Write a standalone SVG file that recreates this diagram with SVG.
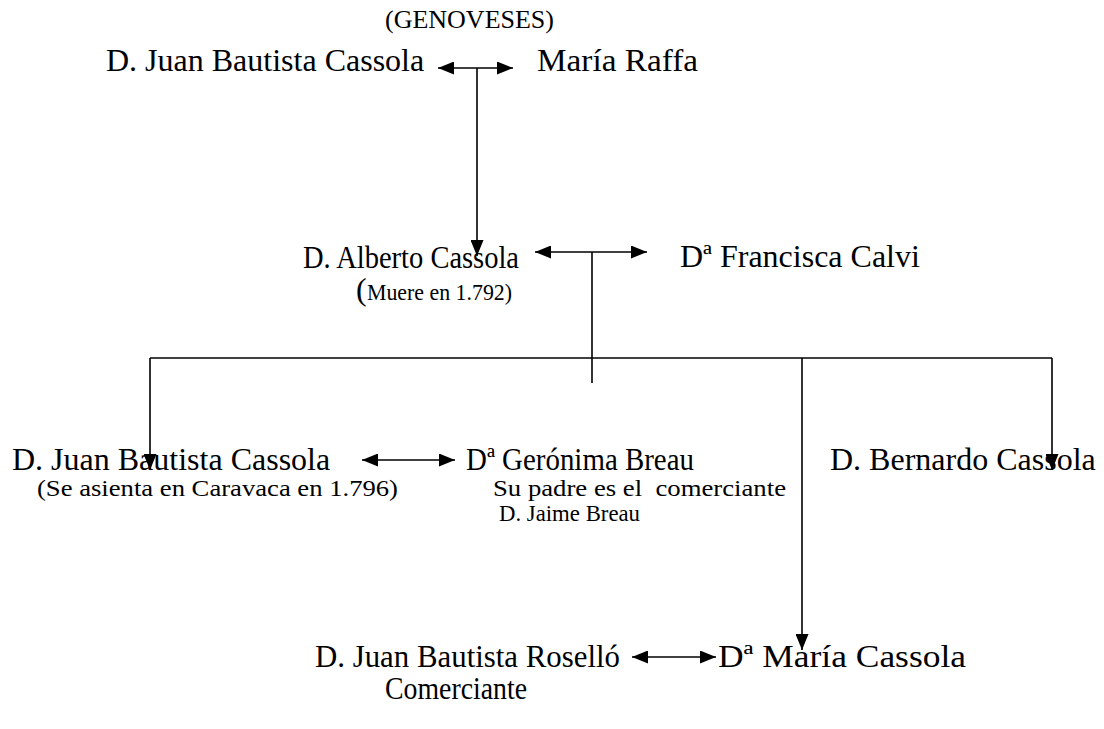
<svg xmlns="http://www.w3.org/2000/svg" width="1104" height="729" viewBox="0 0 1104 729">
<style>
text{font-family:"Liberation Serif","Times New Roman",serif;fill:#000;white-space:pre}
.m{font-size:32px}
.s{font-size:24px}
.c{stroke:#000;stroke-width:1.6;fill:none}
</style>
<defs>
<marker id="ah" viewBox="0 0 16 13" refX="16" refY="6.5" markerWidth="16" markerHeight="13" markerUnits="userSpaceOnUse" orient="auto-start-reverse">
<path d="M0,0 L16,6.5 L0,13 Z" fill="#000"/>
</marker>
</defs>
<rect width="1104" height="729" fill="#fff"/>
<g id="connectors">
<line class="c" x1="438" y1="68" x2="513" y2="68" marker-start="url(#ah)" marker-end="url(#ah)"/>
<line class="c" x1="477" y1="68" x2="477" y2="256" marker-end="url(#ah)"/>
<line class="c" x1="535" y1="252" x2="647" y2="252" marker-start="url(#ah)" marker-end="url(#ah)"/>
<line class="c" x1="592" y1="252" x2="592" y2="383"/>
<line class="c" x1="150" y1="358" x2="1052" y2="358"/>
<line class="c" x1="150" y1="358" x2="150" y2="470" marker-end="url(#ah)"/>
<line class="c" x1="802" y1="358" x2="802" y2="650" marker-end="url(#ah)"/>
<line class="c" x1="1052" y1="358" x2="1052" y2="470" marker-end="url(#ah)"/>
<line class="c" x1="362" y1="460" x2="455" y2="460" marker-start="url(#ah)" marker-end="url(#ah)"/>
<line class="c" x1="632" y1="657" x2="716" y2="657" marker-start="url(#ah)" marker-end="url(#ah)"/>
</g>
<g id="genoveses"><text x="385" y="28" style="font-size:26px">(GENOVESES)</text></g>
<g id="juan1"><text class="m" x="106" y="71">D. Juan Bautista Cassola</text></g>
<g id="maria-raffa"><text class="m" x="537" y="71" textLength="161" lengthAdjust="spacingAndGlyphs">María Raffa</text></g>
<g id="alberto"><text class="m" x="303" y="268" textLength="216" lengthAdjust="spacingAndGlyphs">D. Alberto Cassola</text>
<text class="m" x="356" y="300">(</text><text class="s" x="367" y="300" textLength="145" lengthAdjust="spacingAndGlyphs">Muere en 1.792)</text></g>
<g id="francisca"><text class="m" x="680" y="267">Dª Francisca Calvi</text></g>
<g id="juan2"><text class="m" x="12" y="470">D. Juan Bautista Cassola</text>
<text class="s" x="37" y="496" textLength="361" lengthAdjust="spacingAndGlyphs">(Se asienta en Caravaca en 1.796)</text></g>
<g id="geronima"><text class="m" x="466" y="470" textLength="228" lengthAdjust="spacingAndGlyphs">Dª Gerónima Breau</text>
<text class="s" x="493" y="496" textLength="293" lengthAdjust="spacingAndGlyphs">Su padre es el  comerciante</text>
<text class="s" x="499" y="521" textLength="141" lengthAdjust="spacingAndGlyphs">D. Jaime Breau</text></g>
<g id="bernardo"><text class="m" x="830" y="470">D. Bernardo Cassola</text></g>
<g id="rosello"><text class="m" x="315" y="667" textLength="305" lengthAdjust="spacingAndGlyphs">D. Juan Bautista Roselló</text>
<text class="m" x="385" y="699" textLength="142" lengthAdjust="spacingAndGlyphs">Comerciante</text></g>
<g id="maria-cassola"><text class="m" x="718" y="667" textLength="248" lengthAdjust="spacingAndGlyphs">Dª María Cassola</text></g>
</svg>
